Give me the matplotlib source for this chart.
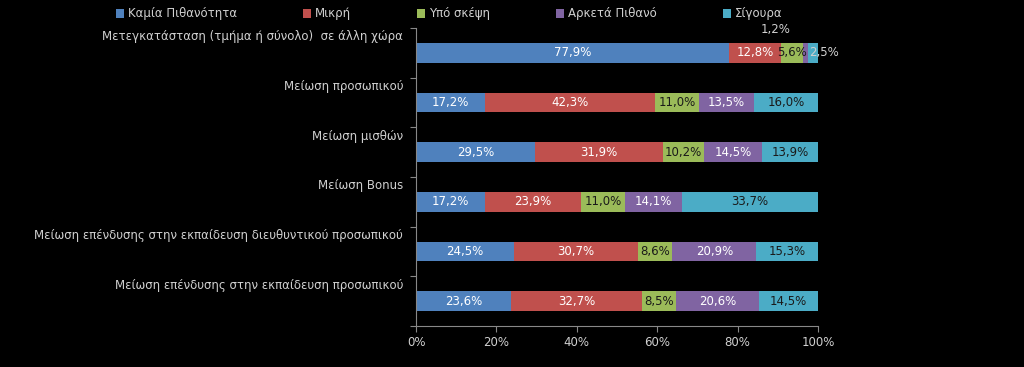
import matplotlib.pyplot as plt
import numpy as np

categories = [
    "Μετεγκατάσταση (τμήμα ή σύνολο)  σε άλλη χώρα",
    "Μείωση προσωπικού",
    "Μείωση μισθών",
    "Μείωση Bonus",
    "Μείωση επένδυσης στην εκπαίδευση διευθυντικού προσωπικού",
    "Μείωση επένδυσης στην εκπαίδευση προσωπικού",
]
series = ["Καμία Πιθανότητα", "Μικρή", "Υπό σκέψη", "Αρκετά Πιθανό", "Σίγουρα"]
kamia = [77.9, 17.2, 29.5, 17.2, 24.5, 23.6]
mikri = [12.8, 42.3, 31.9, 23.9, 30.7, 32.7]
ypo = [5.6, 11.0, 10.2, 11.0, 8.6, 8.5]
arketa = [1.2, 13.5, 14.5, 14.1, 20.9, 20.6]
sigoura = [2.5, 16.0, 13.9, 33.7, 15.3, 14.5]

colors = ["#4F81BD", "#C0504D", "#9BBB59", "#8064A2", "#4BACC6"]
label_colors = ["white", "white", "#1a1a1a", "white", "#1a1a1a"]
grey = "#d0d0d0"

fig = plt.figure(figsize=(10.24, 3.67), dpi=100, facecolor="black")
ax = fig.add_axes([416/1024, 1-326/367, 402/1024, 298/367])
ax.set_facecolor("black")

y = np.arange(len(categories))
left = np.zeros(len(categories))
data = [kamia, mikri, ypo, arketa, sigoura]
for k, vals in enumerate(data):
    vals = np.array(vals)
    ax.barh(y, vals, left=left, height=0.4, color=colors[k], label=series[k])
    for i, v in enumerate(vals):
        txt = f"{v:.1f}%".replace(".", ",")
        cx = left[i] + v / 2
        if v < 2:
            # small segment: label above the bar, like Excel moved it
            ax.text(cx - 7.5, y[i] - 0.46, txt, ha="center", va="center",
                    color=grey, fontsize=8.5)
        elif v < 3 and k == len(data) - 1:
            ax.text(left[i] + 0.2, y[i], txt, ha="left", va="center",
                    color=grey, fontsize=8.5)
        else:
            ax.text(cx, y[i], txt, ha="center", va="center",
                    color=label_colors[k], fontsize=8.5)
    left += vals

ax.set_ylim(len(categories) - 0.5, -0.5)
ax.set_xlim(0, 100)
ax.set_yticks(np.arange(-0.5, len(categories), 1.0))
ax.set_yticklabels([])
for i, c in enumerate(categories):
    ax.text(-0.032, y[i] - 0.32, c, transform=ax.get_yaxis_transform(),
            ha="right", va="center", color=grey, fontsize=8.5)

ax.set_xticks(np.arange(0, 101, 20))
ax.set_xticklabels([f"{t}%" for t in range(0, 101, 20)], color=grey, fontsize=8.5)
ax.tick_params(axis="both", colors="#888888", length=4, labelcolor=grey)
for s in ["top", "right"]:
    ax.spines[s].set_visible(False)
for s in ["left", "bottom"]:
    ax.spines[s].set_color("#888888")

leg = fig.legend(loc="center", bbox_to_anchor=(449/1024, 1-14/367), ncol=5,
                 frameon=False, fontsize=8.5, handlelength=0.7, handleheight=0.7,
                 handletextpad=0.3, columnspacing=5.6)
for t in leg.get_texts():
    t.set_color(grey)

fig.savefig("out.png", dpi=100, facecolor="black")
